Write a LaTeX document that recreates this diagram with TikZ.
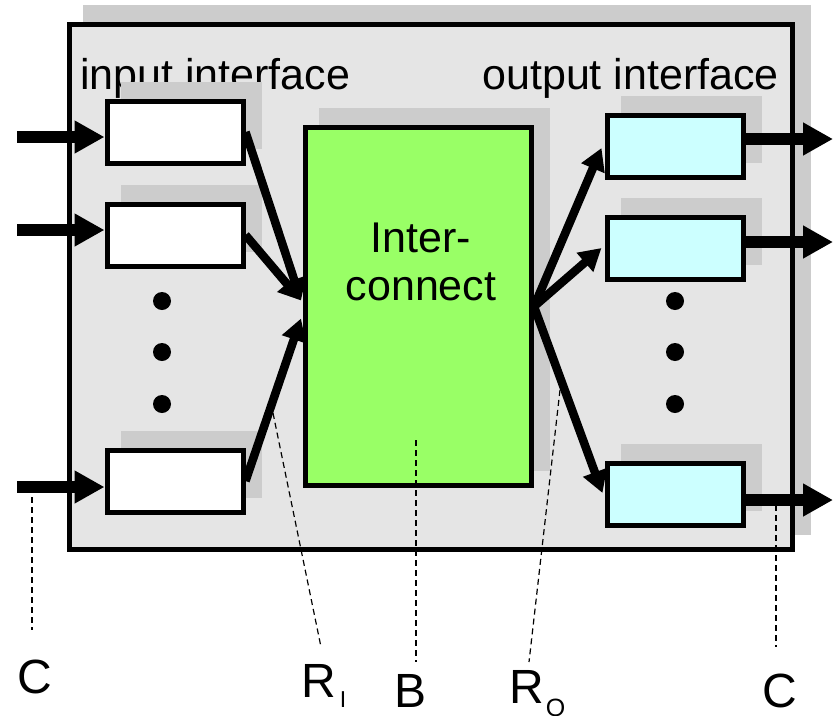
\documentclass[tikz,border=0pt]{standalone}
\usepackage{fontspec}
\setmainfont{Liberation Sans}
\usetikzlibrary{arrows.meta,shadows,calc}
\definecolor{panelgray}{HTML}{E5E5E5}
\definecolor{shadowgray}{HTML}{CCCCCC}
\definecolor{icgreen}{HTML}{99FF66}
\definecolor{outcyan}{HTML}{CCFFFF}
\tikzset{
  shadowed/.style={drop shadow={shadow xshift=16pt, shadow yshift=17pt, fill=shadowgray, draw=shadowgray, opacity=1}},
  blockbox/.style={draw, line width=5pt, shadowed, inner sep=0pt},
  portbox/.style={blockbox, minimum width=136pt, minimum height=62pt},
  inport/.style={portbox, fill=white},
  outport/.style={portbox, fill=outcyan},
  linkarrow/.style={line width=11.5pt, -{Triangle[length=30pt,width=31pt]}},
  fanarrow/.style={line width=8.5pt, -{Triangle[length=22pt,width=24pt]}},
  leader/.style={line width=1.2pt, dash pattern=on 6pt off 4pt},
  biglabel/.style={font=\fontsize{43}{48}\selectfont, inner sep=0pt},
  marklabel/.style={font=\fontsize{48}{48}\selectfont, anchor=base west, inner sep=0pt},
  dotmark/.style={circle, fill, minimum size=18pt, inner sep=0pt},
}
\begin{document}
\begin{tikzpicture}[x=1pt, y=-1pt]
\useasboundingbox (0,0) rectangle (837,715);

% router enclosure
\node[blockbox, fill=panelgray, minimum width=723pt, minimum height=525pt] (router) at (431,287) {};

% section titles
\node[biglabel, anchor=base west] (intitle) at (80,89) {input interface};
\node[biglabel, anchor=base east] (outtitle) at (779,89) {output interface};

% input ports
\node[inport] (ib1) at (175,132) {};
\node[inport] (ib2) at (175,235) {};
\node[inport] (ib3) at (175,481) {};

% output ports
\node[outport] (ob1) at (675,146) {};
\node[outport] (ob2) at (675,248) {};
\node[outport] (ob3) at (675,494) {};

% switching fabric
\node[blockbox, fill=icgreen, minimum width=226pt, minimum height=358pt] (ic) at (418.5,306.5) {};
\node[biglabel, anchor=base, align=center] (ictext) at (421,300) {Inter-\\connect};

% ellipsis dots
\node[dotmark] (id1) at (162,301) {};
\node[dotmark] (id2) at (162,352) {};
\node[dotmark] (id3) at (162,404) {};
\node[dotmark] (od1) at (675,301) {};
\node[dotmark] (od2) at (675,352) {};
\node[dotmark] (od3) at (675,404) {};

% line inputs
\coordinate (src1) at (17,137);
\coordinate (src2) at (17,230);
\coordinate (src3) at (17,487);
\draw[linkarrow] (src1) -- (src1 -| ib1.west);
\draw[linkarrow] (src2) -- (src2 -| ib2.west);
\draw[linkarrow] (src3) -- (src3 -| ib3.west);

% line outputs
\coordinate (dst1) at (833,139);
\coordinate (dst2) at (833,242);
\coordinate (dst3) at (833,500);
\draw[linkarrow] (ob1.east |- dst1) -- (dst1);
\draw[linkarrow] (ob2.east |- dst2) -- (dst2);
\draw[linkarrow] (ob3.east |- dst3) -- (dst3);

% fan-in to the interconnect
\coordinate (fanA) at ($(ic.west)+(-2,-6)$);
\coordinate (fanB) at ($(ic.west)+(-2,12)$);
\draw[fanarrow] (ib1.east) -- (fanA);
\draw[fanarrow] (ib2.east) -- (fanA);
\draw[fanarrow] (ib3.east) -- (fanB);

% fan-out to the output ports
\draw[fanarrow] (ic.east) -- ($(ob1.west)+(-3,2)$);
\draw[fanarrow] (ic.east) -- ($(ob2.west)+(-3,0)$);
\draw[fanarrow] (ic.east) -- ($(ob3.west)+(-2,-1)$);

% rate labels
\node[marklabel] (cin) at (17,693) {C};
\node[marklabel] (ri) at (301,697) {R\kern4pt\raisebox{-10pt}{\fontsize{23}{23}\selectfont I}};
\node[marklabel] (bw) at (394,707) {B};
\node[marklabel] (ro) at (509,703) {R\kern2pt\raisebox{-13pt}{\fontsize{25}{25}\selectfont O}};
\node[marklabel] (cout) at (762,707) {C};

% leader lines
\coordinate (lcA) at (32,487);  \coordinate (lcB) at (32,630);
\coordinate (lriA) at (273,413); \coordinate (lriB) at (321,647);
\coordinate (lbA) at (416,440);  \coordinate (lbB) at (416,662);
\coordinate (lroA) at (560,390); \coordinate (lroB) at (529,662);
\coordinate (lcoA) at (776,505); \coordinate (lcoB) at (776,647);
\draw[leader] (lcA) -- (lcB);
\draw[leader] (lriA) -- (lriB);
\draw[leader] (lbA) -- (lbB);
\draw[leader] (lroA) -- (lroB);
\draw[leader] (lcoA) -- (lcoB);
\end{tikzpicture}
\end{document}
